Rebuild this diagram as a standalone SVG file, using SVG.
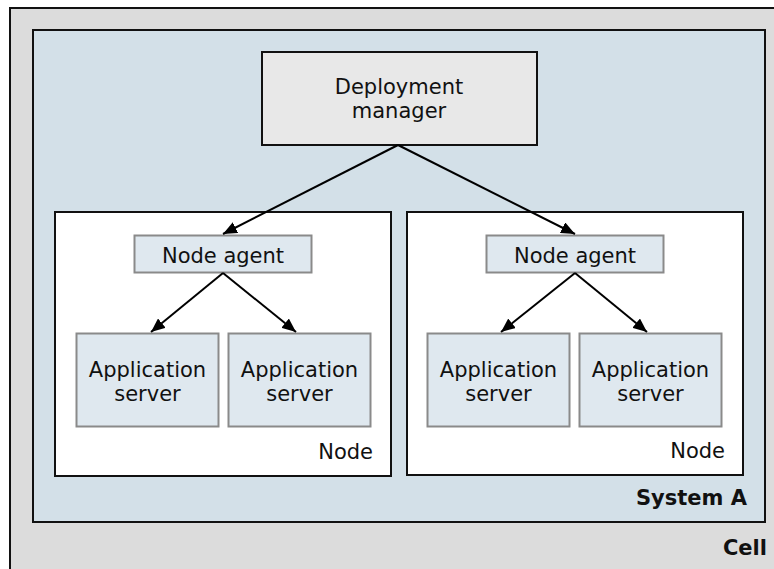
<svg xmlns="http://www.w3.org/2000/svg" width="774" height="569" viewBox="0 0 774 569">
  <style>
    text { font-family: "DejaVu Sans", Verdana, sans-serif; font-size: 21px; fill: #111; }
    .bold { font-weight: bold; }
    .mid { text-anchor: middle; }
    .end { text-anchor: end; }
    .frame { stroke: #111; stroke-width: 2; }
    .box { fill: #dfe8ef; stroke: #8a8a8a; stroke-width: 2; }
    .conn { stroke: #000; stroke-width: 2; fill: none; }
  </style>
  <defs>
    <marker id="arrow" markerUnits="userSpaceOnUse" markerWidth="14" markerHeight="12" refX="14" refY="6" orient="auto">
      <path d="M0,0 L14,6 L0,12 z" fill="#000"/>
    </marker>
  </defs>

  <g id="cell">
    <rect class="frame" x="10" y="8" width="790" height="600" fill="#dcdcdc"/>
    <text class="bold end" x="767" y="555">Cell</text>
  </g>

  <g id="system-a">
    <rect class="frame" x="33" y="30" width="732" height="492" fill="#d3e0e8"/>
    <text class="bold end" x="747" y="505">System A</text>
  </g>

  <g id="node-left">
    <rect class="frame" x="55" y="212" width="336" height="264" fill="#ffffff"/>
    <text class="end" x="373" y="459">Node</text>
  </g>

  <g id="node-right">
    <rect class="frame" x="407" y="212" width="336" height="263" fill="#ffffff"/>
    <text class="end" x="725" y="458">Node</text>
  </g>

  <g id="deployment-manager">
    <rect class="frame" x="262" y="52" width="275" height="93" fill="#e8e8e8"/>
    <text class="mid" x="399" y="94">Deployment</text>
    <text class="mid" x="399" y="118">manager</text>
  </g>

  <g id="node-agent-left">
    <rect class="box" x="134.5" y="235.5" width="177" height="37"/>
    <text class="mid" x="223" y="263">Node agent</text>
  </g>

  <g id="node-agent-right">
    <rect class="box" x="486.5" y="235.5" width="177" height="37"/>
    <text class="mid" x="575" y="263">Node agent</text>
  </g>

  <g id="app-server-1">
    <rect class="box" x="76.5" y="333.5" width="142" height="93"/>
    <text class="mid" x="147.5" y="377">Application</text>
    <text class="mid" x="147.5" y="401">server</text>
  </g>

  <g id="app-server-2">
    <rect class="box" x="228.5" y="333.5" width="142" height="93"/>
    <text class="mid" x="299.5" y="377">Application</text>
    <text class="mid" x="299.5" y="401">server</text>
  </g>

  <g id="app-server-3">
    <rect class="box" x="427.5" y="333.5" width="142" height="93"/>
    <text class="mid" x="498.5" y="377">Application</text>
    <text class="mid" x="498.5" y="401">server</text>
  </g>

  <g id="app-server-4">
    <rect class="box" x="579.5" y="333.5" width="142" height="93"/>
    <text class="mid" x="650.5" y="377">Application</text>
    <text class="mid" x="650.5" y="401">server</text>
  </g>

  <g id="connectors">
    <line class="conn" x1="398" y1="145" x2="223" y2="234" marker-end="url(#arrow)"/>
    <line class="conn" x1="398" y1="145" x2="575" y2="234" marker-end="url(#arrow)"/>
    <line class="conn" x1="223" y1="273" x2="151" y2="332" marker-end="url(#arrow)"/>
    <line class="conn" x1="223" y1="273" x2="296" y2="332" marker-end="url(#arrow)"/>
    <line class="conn" x1="575" y1="273" x2="501" y2="332" marker-end="url(#arrow)"/>
    <line class="conn" x1="575" y1="273" x2="647" y2="332" marker-end="url(#arrow)"/>
  </g>
</svg>
